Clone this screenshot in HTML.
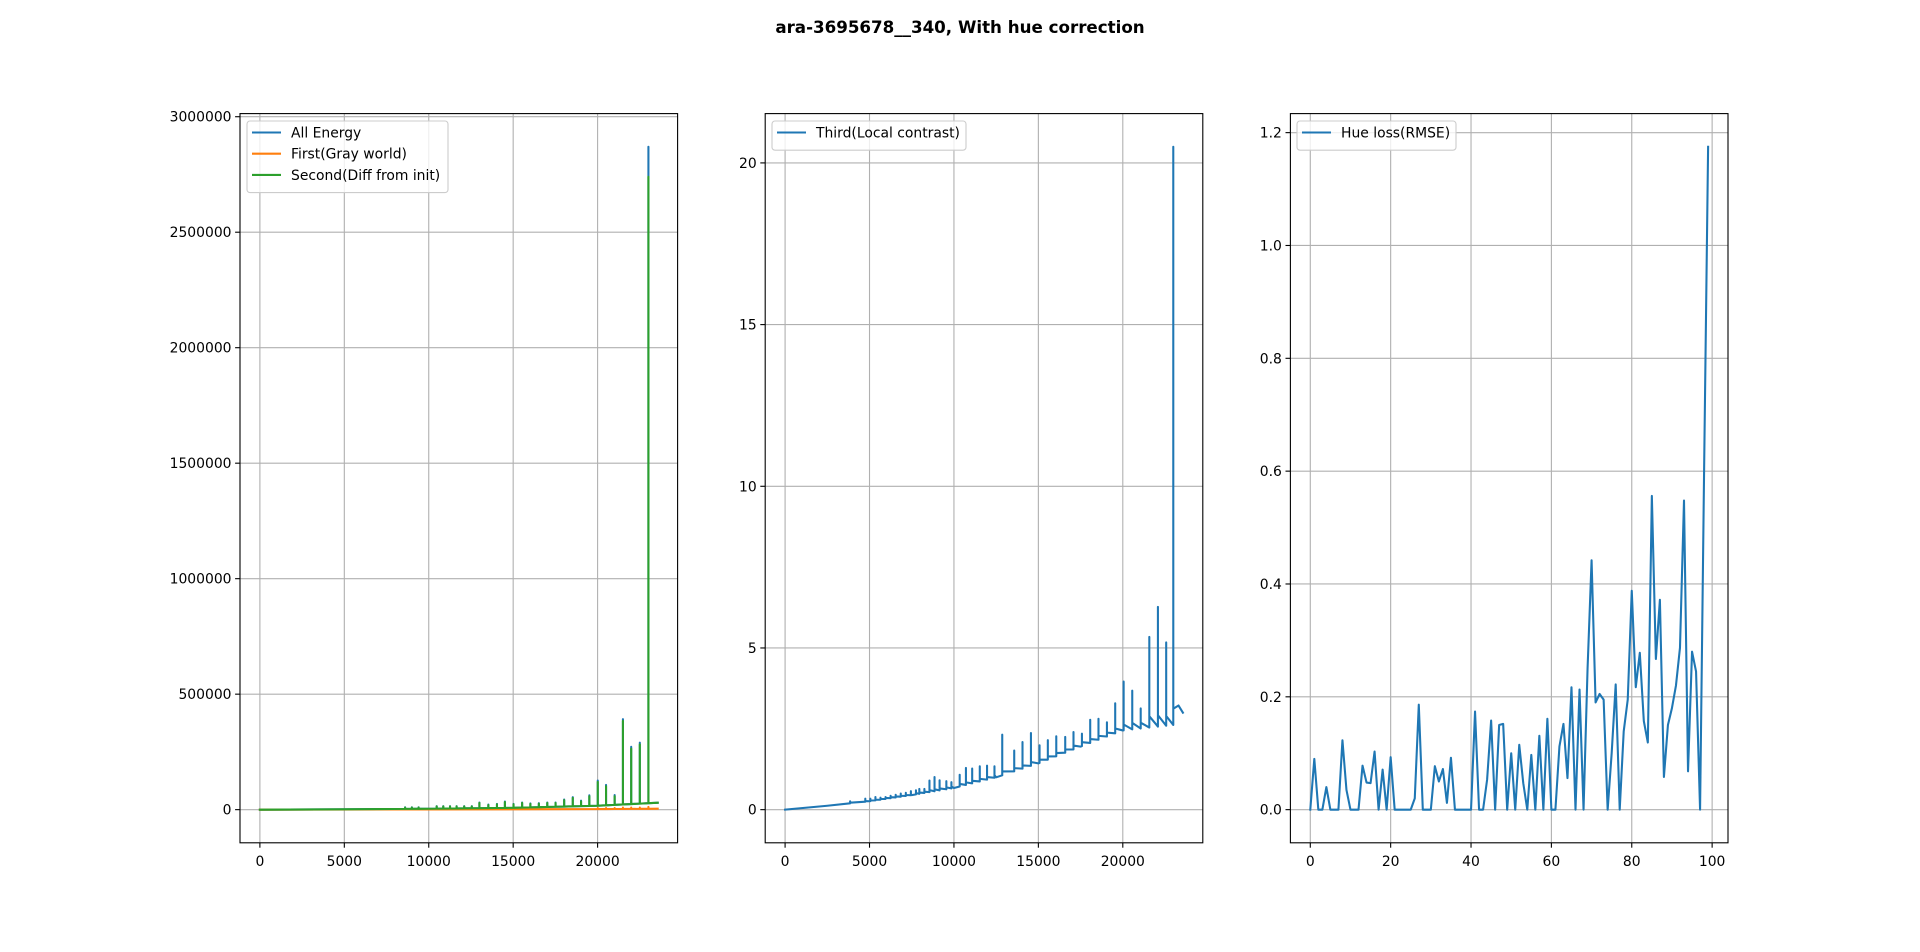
<!DOCTYPE html>
<html><head><meta charset="utf-8"><style>
html,body{margin:0;padding:0;background:#fff;}
svg text{font-family:"DejaVu Sans","Liberation Sans",sans-serif;font-size:13.9px;fill:#000;}
</style></head><body>
<svg id="fig" width="1920" height="947" viewBox="0 0 1920 947" xmlns="http://www.w3.org/2000/svg">
<rect width="1920" height="947" fill="#fff"/>
<text x="960" y="33" text-anchor="middle" style="font-weight:bold;font-size:16.7px">ara-3695678__340, With hue correction</text>
</svg>
<script>
// ---------- Panel 1 data (energy) ----------
const p1GreenBaseX = [0, 5000, 10000, 15000, 20000, 23560];
const p1GreenBaseY = [0, 1500, 4000, 8000, 17000, 30000];
const p1SpikeX = [8600, 9000, 9400, 10470, 10860, 11260, 11650, 12100, 12550, 13000, 13530, 14040, 14510, 15020, 15530, 16020, 16520, 17020, 17510, 18020, 18530, 19020, 19510, 20010, 20500, 21010, 21500, 21990, 22500, 23010];
const p1GreenSpikeH = [9000, 9000, 9000, 14000, 14000, 14000, 14000, 14000, 14000, 29000, 20000, 23000, 33000, 23000, 29000, 25000, 26000, 29000, 29000, 41000, 51000, 36000, 58000, 120000, 101000, 58000, 384000, 264000, 282000, 2740000];
const p1BlueSpikeH = [10000, 10000, 10000, 15000, 15000, 15000, 15000, 15000, 15000, 31000, 22000, 25000, 35000, 25000, 31000, 27000, 28000, 31000, 31000, 44000, 54000, 39000, 62000, 126000, 107000, 63000, 392000, 272000, 290000, 2870000];
const p1OrangeBaseX = [0, 10000, 20000, 23560];
const p1OrangeBaseY = [0, 800, 2500, 4000];
const p1OrangeSpikeX = [20010, 20500, 21010, 21500, 21990, 22500, 23010];
const p1OrangeSpikeH = [7000, 7000, 7000, 9000, 9000, 9000, 12000];
const p1XTicks = [0, 5000, 10000, 15000, 20000];
const p1YTicks = [0, 500000, 1000000, 1500000, 2000000, 2500000, 3000000];

// ---------- Panel 2 data (local contrast) ----------
const p2BaseX = [0, 2500, 5000, 7500, 10000, 12500, 15000, 17500, 20000, 22990, 23300, 23560];
const p2BaseY = [0, 0.12, 0.26, 0.45, 0.67, 1.0, 1.43, 1.95, 2.45, 2.62, 3.22, 3.0];
const p2SpikeX = [3850, 4750, 5050, 5350, 5650, 5950, 6250, 6550, 6850, 7150, 7450, 7750, 7950, 8250, 8550, 8850, 9150, 9550, 9850, 10340, 10710, 11080, 11530, 11960, 12400, 12860, 13570, 14060, 14560, 15070, 15560, 16060, 16590, 17080, 17580, 18070, 18560, 19060, 19550, 20050, 20560, 21060, 21570, 22080, 22570, 22990];
const p2SpikeH = [0.26, 0.34, 0.34, 0.39, 0.37, 0.39, 0.43, 0.46, 0.5, 0.52, 0.57, 0.6, 0.64, 0.64, 0.9, 1.01, 0.91, 0.88, 0.85, 1.08, 1.29, 1.27, 1.34, 1.36, 1.34, 2.32, 1.83, 2.09, 2.37, 1.99, 2.15, 2.27, 2.25, 2.4, 2.35, 2.78, 2.81, 2.7, 3.29, 3.96, 3.68, 3.13, 5.34, 6.27, 5.17, 20.5];
const p2PostOffset = [0.02, 0.02, 0.02, 0.02, 0.02, 0.03, 0.03, 0.03, 0.03, 0.03, 0.03, 0.04, 0.04, 0.04, 0.06, 0.06, 0.06, 0.06, 0.06, 0.08, 0.08, 0.08, 0.08, 0.08, 0.08, 0.12, 0.1, 0.1, 0.12, 0.1, 0.1, 0.1, 0.1, 0.12, 0.12, 0.12, 0.12, 0.12, 0.15, 0.18, 0.2, 0.18, 0.35, 0.35, 0.3, 0.5];
const p2XTicks = [0, 5000, 10000, 15000, 20000];
const p2YTicks = [0, 5, 10, 15, 20];

// ---------- Panel 3 data (hue loss) ----------
const p3Values = [0, 0.09, 0, 0, 0.04, 0, 0, 0, 0.123, 0.035, 0, 0, 0, 0.078, 0.048, 0.047, 0.103, 0, 0.071, 0, 0.093, 0, 0, 0, 0, 0, 0.02, 0.186, 0, 0, 0, 0.077, 0.05, 0.072, 0.012, 0.092, 0, 0, 0, 0, 0, 0.174, 0, 0, 0.053, 0.158, 0, 0.15, 0.152, 0, 0.1, 0, 0.115, 0.047, 0, 0.097, 0, 0.131, 0, 0.161, 0, 0, 0.112, 0.152, 0.056, 0.217, 0, 0.213, 0, 0.25, 0.442, 0.19, 0.205, 0.195, 0, 0.1, 0.222, 0, 0.139, 0.195, 0.388, 0.217, 0.278, 0.157, 0.119, 0.556, 0.267, 0.372, 0.058, 0.15, 0.18, 0.22, 0.287, 0.548, 0.068, 0.28, 0.245, 0, 0.6, 1.175];
const p3XTicks = [0, 20, 40, 60, 80, 100];
const p3YTicks = [0, 0.2, 0.4, 0.6, 0.8, 1.0, 1.2];

const NS = 'http://www.w3.org/2000/svg';
const svg = document.getElementById('fig');
function mk(tag, attrs, parent) {
  const e = document.createElementNS(NS, tag);
  for (const k in attrs) e.setAttribute(k, attrs[k]);
  (parent || svg).appendChild(e);
  return e;
}
function interp(xs, ys, x) {
  for (let i = 0; i < xs.length - 1; i++) {
    if (x >= xs[i] && x <= xs[i + 1]) return ys[i] + (ys[i + 1] - ys[i]) * (x - xs[i]) / (xs[i + 1] - xs[i]);
  }
  return ys[ys.length - 1];
}
function spikeSeries(bx, by, sx, sh, post) {
  const items = [];
  bx.forEach((x, i) => items.push({x: x, y: by[i], s: false}));
  sx.forEach((x, i) => items.push({x: x, y: sh[i], s: true, o: post ? post[i] : 0}));
  items.sort((a, b) => a.x - b.x);
  const pts = [];
  items.forEach(it => {
    if (it.s) { const b = interp(bx, by, it.x); pts.push([it.x, b], [it.x, it.y], [it.x + 1, b + it.o]); }
    else pts.push([it.x, it.y]);
  });
  return pts;
}
function fmt(v) { return (Math.abs(v) < 1e-9) ? '0' : String(v); }

function makeAxes(name, L, T, W, H, xmin, xmax, ymin, ymax, xticks, yticks, ydec) {
  const g = mk('g', {});
  
  
  const sx = v => L + (v - xmin) / (xmax - xmin) * W;
  const sy = v => T + H - (v - ymin) / (ymax - ymin) * H;
  const clipId = name + '-clip';
  const cp = mk('clipPath', {id: clipId}, g);
  mk('rect', {x: L, y: T, width: W, height: H}, cp);
  xticks.forEach(t => {
    const x = sx(t);
    const gl = mk('line', {x1: x, x2: x, y1: T, y2: T + H, stroke: '#b0b0b0', 'stroke-width': 1.1}, g);
    
    
    mk('line', {x1: x, x2: x, y1: T + H, y2: T + H + 4.9, stroke: '#000', 'stroke-width': 1.1}, g);
    const tx = mk('text', {x: x, y: T + H + 23, 'text-anchor': 'middle'}, g);
    tx.textContent = fmt(t);
    
    
  });
  yticks.forEach(t => {
    const y = sy(t);
    const gl = mk('line', {x1: L, x2: L + W, y1: y, y2: y, stroke: '#b0b0b0', 'stroke-width': 1.1}, g);
    
    
    mk('line', {x1: L - 4.9, x2: L, y1: y, y2: y, stroke: '#000', 'stroke-width': 1.1}, g);
    const tx = mk('text', {x: L - 8.5, y: y + 5, 'text-anchor': 'end'}, g);
    tx.textContent = ydec ? t.toFixed(ydec) : fmt(t);
    
    
  });
  const plot = mk('g', {'clip-path': 'url(#' + clipId + ')'}, g);
  return {g: g, plot: plot, sx: sx, sy: sy, L: L, T: T, W: W, H: H};
}
function drawLine(ax, pts, color, name) {
  const d = pts.map((p, i) => (i ? 'L' : 'M') + ax.sx(p[0]).toFixed(2) + ',' + ax.sy(p[1]).toFixed(2)).join('');
  const p = mk('path', {d: d, fill: 'none', stroke: color, 'stroke-width': 2.08, 'stroke-linejoin': 'round', 'stroke-linecap': 'square'}, ax.plot);
  
  
}
function frame(ax) {
  const r = mk('rect', {x: ax.L, y: ax.T, width: ax.W, height: ax.H, fill: 'none', stroke: '#000', 'stroke-width': 1.1}, ax.g);
  
  
}
function legend(ax, x, y, w, entries) {
  const lg = mk('g', {}, ax.g);
  
  
  mk('rect', {x: x, y: y, width: w, height: 8 + entries.length * 21.2, rx: 3, fill: '#fff', 'fill-opacity': 0.8, stroke: '#cccccc', 'stroke-width': 1.1}, lg);
  entries.forEach((e, i) => {
    const cy = y + 11.5 + i * 21.2;
    const en = mk('g', {}, lg);
    
    
    mk('line', {x1: x + 5, x2: x + 34, y1: cy, y2: cy, stroke: e[1], 'stroke-width': 2.08}, en);
    const t = mk('text', {x: x + 44, y: cy + 5}, en);
    t.textContent = e[0];
  });
}

// Panel 1
const ax1 = makeAxes('energy-axes', 240, 113.6, 437.6, 729.2, -1178, 24738, -143500, 3013500, p1XTicks, p1YTicks, 0);
drawLine(ax1, spikeSeries(p1GreenBaseX, p1GreenBaseY, p1SpikeX, p1BlueSpikeH), '#1f77b4', 'all-energy-line');
drawLine(ax1, spikeSeries(p1OrangeBaseX, p1OrangeBaseY, p1OrangeSpikeX, p1OrangeSpikeH), '#ff7f0e', 'gray-world-line');
drawLine(ax1, spikeSeries(p1GreenBaseX, p1GreenBaseY, p1SpikeX, p1GreenSpikeH), '#2ca02c', 'diff-from-init-line');
frame(ax1);
legend(ax1, 247, 121, 201, [['All Energy', '#1f77b4'], ['First(Gray world)', '#ff7f0e'], ['Second(Diff from init)', '#2ca02c']]);

// Panel 2
const ax2 = makeAxes('local-contrast-axes', 765.2, 113.6, 437.6, 729.2, -1178, 24738, -1.025, 21.525, p2XTicks, p2YTicks, 0);
drawLine(ax2, spikeSeries(p2BaseX, p2BaseY, p2SpikeX, p2SpikeH, p2PostOffset), '#1f77b4', 'local-contrast-line');
frame(ax2);
legend(ax2, 772, 121, 194, [['Third(Local contrast)', '#1f77b4']]);

// Panel 3
const ax3 = makeAxes('hue-loss-axes', 1290.4, 113.6, 437.6, 729.2, -4.95, 103.95, -0.05875, 1.23375, p3XTicks, p3YTicks, 1);
drawLine(ax3, p3Values.map((v, i) => [i, v]), '#1f77b4', 'hue-loss-line');
frame(ax3);
legend(ax3, 1297, 121, 159, [['Hue loss(RMSE)', '#1f77b4']]);
</script>
</body></html>
